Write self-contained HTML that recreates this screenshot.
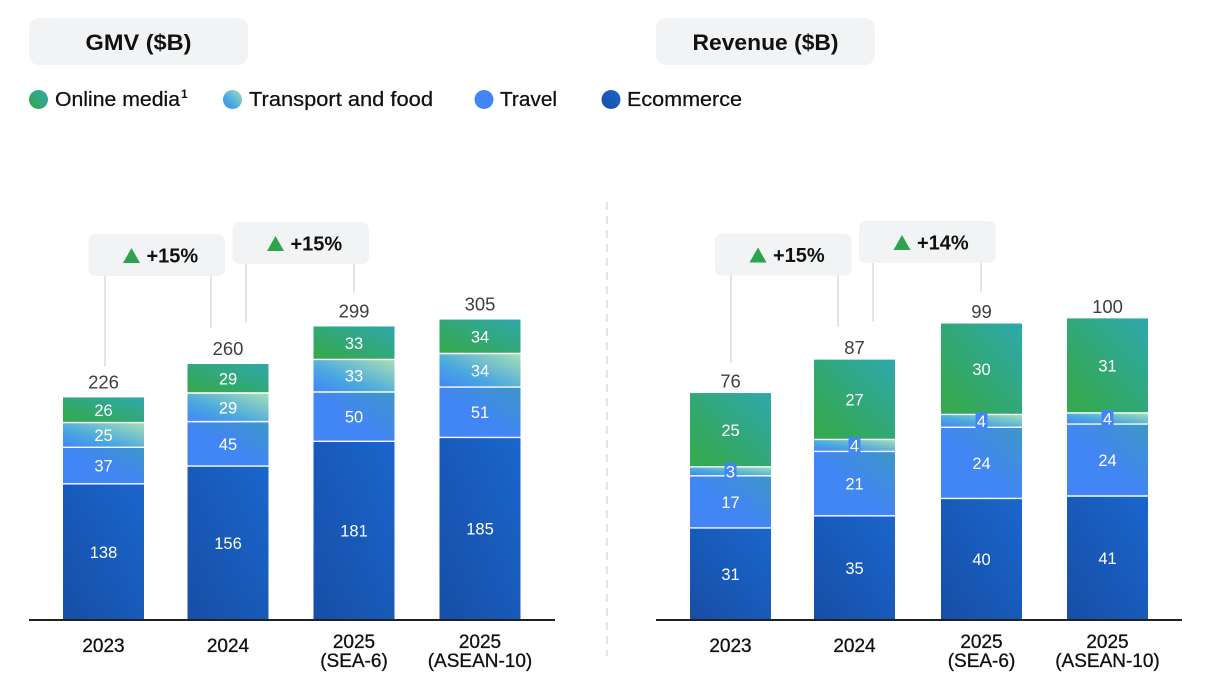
<!DOCTYPE html>
<html>
<head>
<meta charset="utf-8">
<style>
html,body{margin:0;padding:0;background:#fff;}
body{width:1210px;height:689px;overflow:hidden;font-family:"Liberation Sans",sans-serif;}
svg{display:block;}
text{font-family:"Liberation Sans",sans-serif;}
</style>
</head>
<body>
<svg id="chart" width="1210" height="689" viewBox="0 0 1210 689" xmlns="http://www.w3.org/2000/svg">
<defs>
<linearGradient id="g-online" x1="0" y1="1" x2="1" y2="0"><stop offset="0.15" stop-color="#34a853"/><stop offset="1" stop-color="#2ea8ad"/></linearGradient>
<linearGradient id="g-transport" x1="0" y1="1" x2="1" y2="0"><stop offset="0" stop-color="#4285f4"/><stop offset="0.38" stop-color="#4aa8e0"/><stop offset="1" stop-color="#a8e0b4"/></linearGradient>
<linearGradient id="g-travel" x1="0" y1="1" x2="1" y2="0"><stop offset="0.45" stop-color="#4285f4"/><stop offset="1" stop-color="#3d97c8"/></linearGradient>
<linearGradient id="g-ecommerce" x1="0" y1="1" x2="1" y2="0"><stop offset="0" stop-color="#174ea6"/><stop offset="1" stop-color="#1a66cc"/></linearGradient>
</defs>

<rect x="29" y="18" width="219" height="47" rx="10" fill="#f1f3f4"/>
<text x="138.5" y="50" font-size="22" font-weight="700" text-anchor="middle" fill="#111" textLength="106" lengthAdjust="spacingAndGlyphs">GMV ($B)</text>
<rect x="656" y="18" width="219" height="47" rx="10" fill="#f1f3f4"/>
<text x="765.5" y="50" font-size="22" font-weight="700" text-anchor="middle" fill="#111" textLength="146" lengthAdjust="spacingAndGlyphs">Revenue ($B)</text>

<g>
<circle cx="38.5" cy="99.5" r="9.5" fill="url(#g-online)"/>
<text x="55" y="106" font-size="20" fill="#111" stroke="#111" stroke-width="0.25" textLength="125" lengthAdjust="spacingAndGlyphs">Online media</text>
<text x="181" y="98" font-size="12" font-weight="700" fill="#111">1</text>
<circle cx="232.5" cy="99.5" r="9.5" fill="url(#g-transport)"/>
<text x="249" y="106" font-size="20" fill="#111" stroke="#111" stroke-width="0.25" textLength="184" lengthAdjust="spacingAndGlyphs">Transport and food</text>
<circle cx="484" cy="99.5" r="9.5" fill="#4285f4"/>
<text x="500" y="106" font-size="20" fill="#111" stroke="#111" stroke-width="0.25" textLength="57" lengthAdjust="spacingAndGlyphs">Travel</text>
<circle cx="611" cy="99.5" r="9.5" fill="url(#g-ecommerce)"/>
<text x="627" y="106" font-size="20" fill="#111" stroke="#111" stroke-width="0.25" textLength="115" lengthAdjust="spacingAndGlyphs">Ecommerce</text>
</g>

<line x1="607" y1="202" x2="607" y2="656" stroke="#dadce0" stroke-width="1.5" stroke-dasharray="8 6"/>
</svg>

<script>
var categories = [["2023"], ["2024"], ["2025", "(SEA-6)"], ["2025", "(ASEAN-10)"]];
var seriesKeys = ["ecommerce", "travel", "transport", "online"];

var gmvEcommerce = [138, 156, 181, 185];
var gmvTravel = [37, 45, 50, 51];
var gmvTransport = [25, 29, 33, 34];
var gmvOnline = [25.5, 29.4, 33.4, 34.4];
var gmvTotals = [226, 260, 299, 305];

var revEcommerce = [30.6, 34.6, 40.4, 41.2];
var revTravel = [17.3, 21.4, 23.6, 23.9];
var revTransport = [3, 4, 4.3, 3.7];
var revOnline = [24.5, 26.5, 30.2, 31.4];
var revTotals = [76, 87, 99, 100];

var gmvGrowth = ["+15%", "+15%"];
var revGrowth = ["+15%", "+14%"];

var SVGNS = "http://www.w3.org/2000/svg";
var svg = document.getElementById("chart");

function make(tag, attrs, parent) {
  var el = document.createElementNS(SVGNS, tag);
  for (var k in attrs) el.setAttribute(k, attrs[k]);
  (parent || svg).appendChild(el);
  return el;
}

var baselineY = 620;
var barWidth = 81;

function drawPanel(p) {
  var yScale = function (v) { return baselineY - v * p.unit; };
  var xScale = function (i) { return p.left + p.centers[i]; };

  var group = make("g", {});
  
  

  categories.forEach(function (cat, i) {
    var cum = 0;
    var x = xScale(i);
    seriesKeys.forEach(function (key, s) {
      var v = p.series[s][i];
      var y0 = yScale(cum);
      var y1 = yScale(cum + v);
      cum += v;
      var bar = make("rect", { x: x - barWidth / 2, y: y1, width: barWidth, height: y0 - y1, fill: "url(#g-" + key + ")" }, group);
      
      
      if (s > 0) {
        var sep = make("line", { x1: x - barWidth / 2, x2: x + barWidth / 2, y1: y0, y2: y0, stroke: "#fff", "stroke-width": 1.4 }, group);
        
        
      }
    });
    cum = 0;
    seriesKeys.forEach(function (key, s) {
      var v = p.series[s][i];
      var yc = yScale(cum + v / 2);
      cum += v;
      if (v < 5) {
        var chip = make("rect", { x: x - 6, y: yc - 8.5, width: 12, height: 17, fill: "#4285f4" }, group);
        
        
      }
      var label = make("text", { x: x, y: yc + 6, "text-anchor": "middle", "font-size": 16.5, fill: "#fff" }, group);
      
      
      label.textContent = Math.round(v);
    });
    var top = yScale(cum);
    var total = make("text", { x: x, y: top - p.totalGap, "text-anchor": "middle", "font-size": 18.5, fill: "#3c4043" }, group);
    
    
    total.textContent = p.totals[i];

    cat.forEach(function (line, j) {
      var ly = cat.length === 1 ? 652 : 648 + j * 19;
      var tick = make("text", { x: x, y: ly, "text-anchor": "middle", "font-size": 19, "font-weight": 400, fill: "#111", stroke: "#111", "stroke-width": 0.3 }, group);
      
      
      tick.textContent = line;
    });
  });

  var axis = make("line", { x1: p.left, x2: p.left + 526, y1: baselineY, y2: baselineY, stroke: "#202124", "stroke-width": 2 }, group);
  
  

  function stackTop(i) {
    var sum = 0;
    p.series.forEach(function (arr) { sum += arr[i]; });
    return yScale(sum);
  }

  p.callouts.forEach(function (c, n) {
    var g = make("g", {}, group);
    
    
    var boxBottom = c.boxY + 42;
    c.legs.forEach(function (leg) {
      make("line", { x1: p.left + leg.dx, x2: p.left + leg.dx, y1: boxBottom, y2: stackTop(leg.bar) - leg.gap, stroke: "#dadce0", "stroke-width": 1.6 }, g);
    });
    make("rect", { x: p.left + c.boxX, y: c.boxY, width: 136.5, height: 42, rx: 7, fill: "#f1f3f4" }, g);
    var tx = p.left + c.boxX + 43;
    var ty = c.boxY + 29;
    make("polygon", { points: (tx - 8.5) + "," + ty + " " + (tx + 8.5) + "," + ty + " " + tx + "," + (ty - 15), fill: "#2fa24d" }, g);
    var t = make("text", { x: tx + 15, y: c.boxY + 28.5, "font-size": 20, "font-weight": 700, fill: "#111" }, g);
    t.textContent = p.growth[n];
  });
}

drawPanel({
  name: "gmv",
  left: 29,
  unit: 0.987,
  totalGap: 9,
  centers: [74.5, 199, 325, 451],
  series: [gmvEcommerce, gmvTravel, gmvTransport, gmvOnline],
  totals: gmvTotals,
  growth: gmvGrowth,
  callouts: [
    { boxX: 59.5, boxY: 234, legs: [{ dx: 76, bar: 0, gap: 31 }, { dx: 182, bar: 1, gap: 36 }] },
    { boxX: 203.5, boxY: 222, legs: [{ dx: 217, bar: 1, gap: 41 }, { dx: 325, bar: 2, gap: 34 }] }
  ]
});

drawPanel({
  name: "revenue",
  left: 656,
  unit: 3.01,
  totalGap: 5.5,
  centers: [74.5, 198.5, 325.5, 451.5],
  series: [revEcommerce, revTravel, revTransport, revOnline],
  totals: revTotals,
  growth: revGrowth,
  callouts: [
    { boxX: 59, boxY: 233.5, legs: [{ dx: 75, bar: 0, gap: 30 }, { dx: 182, bar: 1, gap: 33 }] },
    { boxX: 203, boxY: 221, legs: [{ dx: 217, bar: 1, gap: 38 }, { dx: 325, bar: 2, gap: 32 }] }
  ]
});
</script>
</body>
</html>
